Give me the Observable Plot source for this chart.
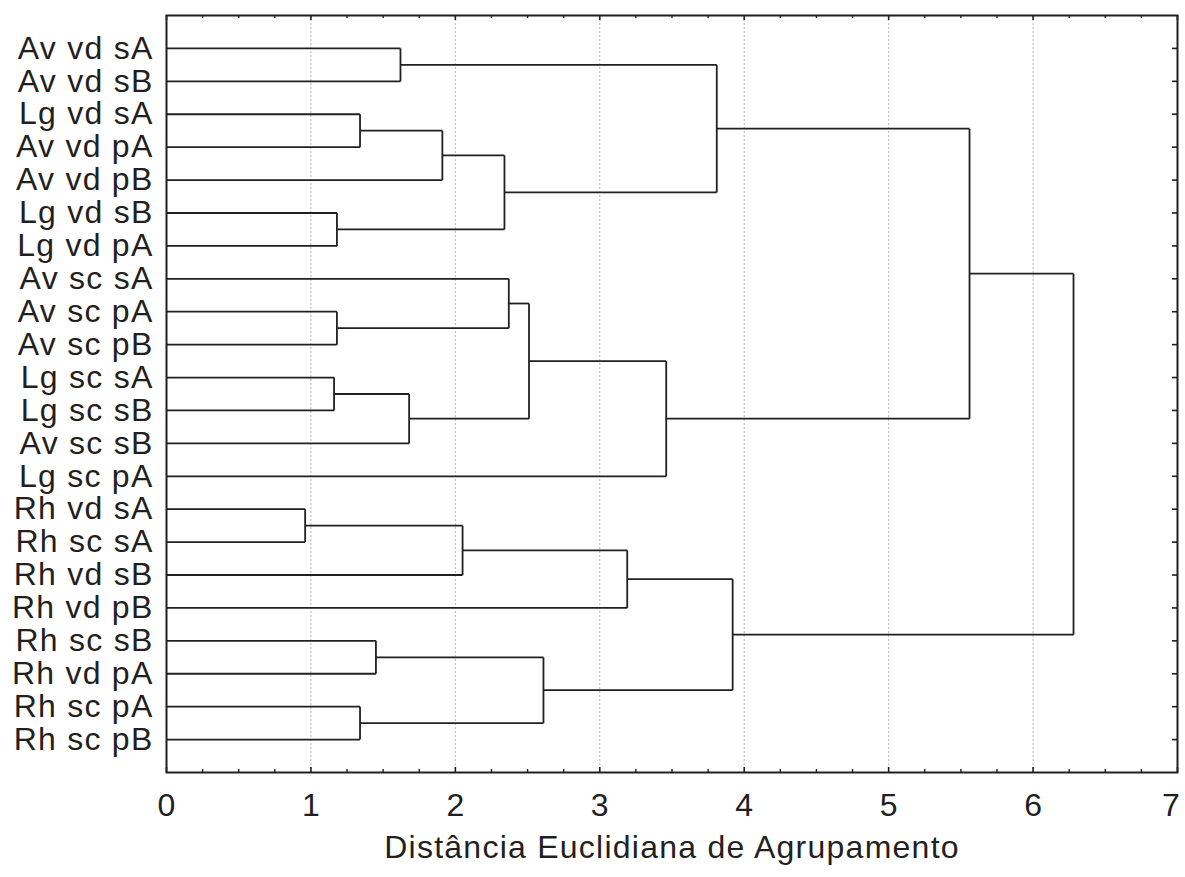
<!DOCTYPE html>
<html>
<head>
<meta charset="utf-8">
<script src="https://cdn.jsdelivr.net/npm/d3@7"></script>
<script src="https://cdn.jsdelivr.net/npm/@observablehq/plot@0.6"></script>
<style>
  html, body { margin: 0; padding: 0; background: #ffffff; }
</style>
</head>
<body>
<div id="chart"></div>
<script>
// Leaves, top to bottom
const leaves = [
  "Av vd sA", "Av vd sB", "Lg vd sA", "Av vd pA", "Av vd pB", "Lg vd sB", "Lg vd pA",
  "Av sc sA", "Av sc pA", "Av sc pB", "Lg sc sA", "Lg sc sB", "Av sc sB", "Lg sc pA",
  "Rh vd sA", "Rh sc sA", "Rh vd sB", "Rh vd pB", "Rh sc sB", "Rh vd pA", "Rh sc pA", "Rh sc pB"
];

// Merge steps (m1..m21): children and linkage distance
const mergeLeft = [
  "Av vd sA", "Lg vd sA", "m2", "Lg vd sB", "m3", "m1",
  "Av sc pA", "Av sc sA", "Lg sc sA", "m9", "m8", "m11", "m6",
  "Rh vd sA", "m14", "m15", "Rh sc sB", "Rh sc pA", "m17", "m16", "m13"
];
const mergeRight = [
  "Av vd sB", "Av vd pA", "Av vd pB", "Lg vd pA", "m4", "m5",
  "Av sc pB", "m7", "Lg sc sB", "Av sc sB", "m10", "Lg sc pA", "m12",
  "Rh sc sA", "Rh vd sB", "Rh vd pB", "Rh vd pA", "Rh sc pB", "m18", "m19", "m20"
];
const mergeHeight = [
  1.62, 1.34, 1.91, 1.18, 2.34, 3.81,
  1.18, 2.37, 1.16, 1.68, 2.51, 3.46, 5.56,
  0.96, 2.05, 3.19, 1.45, 1.34, 2.61, 3.92, 6.28
];

const xTicks = [0, 1, 2, 3, 4, 5, 6, 7];
const xMinorTicks = [0.25, 0.5, 0.75, 1.25, 1.5, 1.75, 2.25, 2.5, 2.75, 3.25, 3.5, 3.75,
                     4.25, 4.5, 4.75, 5.25, 5.5, 5.75, 6.25, 6.5, 6.75];
const xLabel = "Distância Euclidiana de Agrupamento";

// Build node positions (x = distance, y = leaf index)
const pos = new Map();
leaves.forEach((name, i) => pos.set(name, {x: 0, y: i}));
const segments = [];
mergeHeight.forEach((h, k) => {
  const a = pos.get(mergeLeft[k]);
  const b = pos.get(mergeRight[k]);
  segments.push({x1: a.x, y1: a.y, x2: h, y2: a.y});
  segments.push({x1: b.x, y1: b.y, x2: h, y2: b.y});
  segments.push({x1: h, y1: a.y, x2: h, y2: b.y});
  pos.set("m" + (k + 1), {x: h, y: (a.y + b.y) / 2});
});

const W = 1185, H = 877;
const mL = 166, mR = 8, mT = 15, mB = 105;
const FW = W - mL - mR, FH = H - mT - mB;
const ink = "#231f20";
const FS = 32;
const leafIdx = leaves.map((d, i) => i);

const chart = Plot.plot({
  width: W,
  height: H,
  marginLeft: mL,
  marginRight: mR,
  marginTop: mT,
  marginBottom: mB,
  style: {
    fontFamily: "'Liberation Sans', Arial, Helvetica, sans-serif",
    fontSize: FS + "px",
    letterSpacing: "1.25px",
    color: ink,
    background: "#ffffff"
  },
  x: {domain: [0, 7]},
  y: {domain: [-1, 22], reverse: true},
  marks: [
    Plot.gridX(xTicks.slice(1, -1), {stroke: "#b5b5b5", strokeOpacity: 1, strokeDasharray: "2,2", strokeWidth: 1}),
    Plot.link(segments, {x1: "x1", y1: "y1", x2: "x2", y2: "y2", stroke: ink, strokeWidth: 1.8}),
    // inward ticks, top
    Plot.ruleX(xTicks, {insetBottom: FH - 5, stroke: ink, strokeWidth: 1.6}),
    Plot.ruleX(xMinorTicks, {insetBottom: FH - 3, stroke: ink, strokeWidth: 1.4}),
    // inward ticks, bottom
    Plot.ruleX(xTicks, {insetTop: FH - 5, stroke: ink, strokeWidth: 1.6}),
    Plot.ruleX(xMinorTicks, {insetTop: FH - 3, stroke: ink, strokeWidth: 1.4}),
    // inward ticks, right
    Plot.ruleY(leafIdx, {y: d => d, insetLeft: FW - 5, stroke: ink, strokeWidth: 1.6}),
    Plot.frame({stroke: ink, strokeWidth: 2}),
    Plot.axisX(xTicks.slice(0, -1), {
      anchor: "bottom", tickSize: 0, tickPadding: 21, fontSize: FS, dx: 0.6,
      tickFormat: d => String(d),
      label: xLabel, labelAnchor: "center", labelOffset: 85, labelArrow: "none"
    }),
    Plot.axisX(xTicks.slice(-1), {
      anchor: "bottom", tickSize: 0, tickPadding: 21, fontSize: FS, dx: -6,
      tickFormat: d => String(d), label: null
    }),
    Plot.axisY(leafIdx, {
      anchor: "left", tickSize: 0, tickPadding: 13, fontSize: FS,
      tickFormat: i => leaves[i], label: null
    })
  ]
});

document.getElementById("chart").appendChild(chart);
</script>
</body>
</html>
